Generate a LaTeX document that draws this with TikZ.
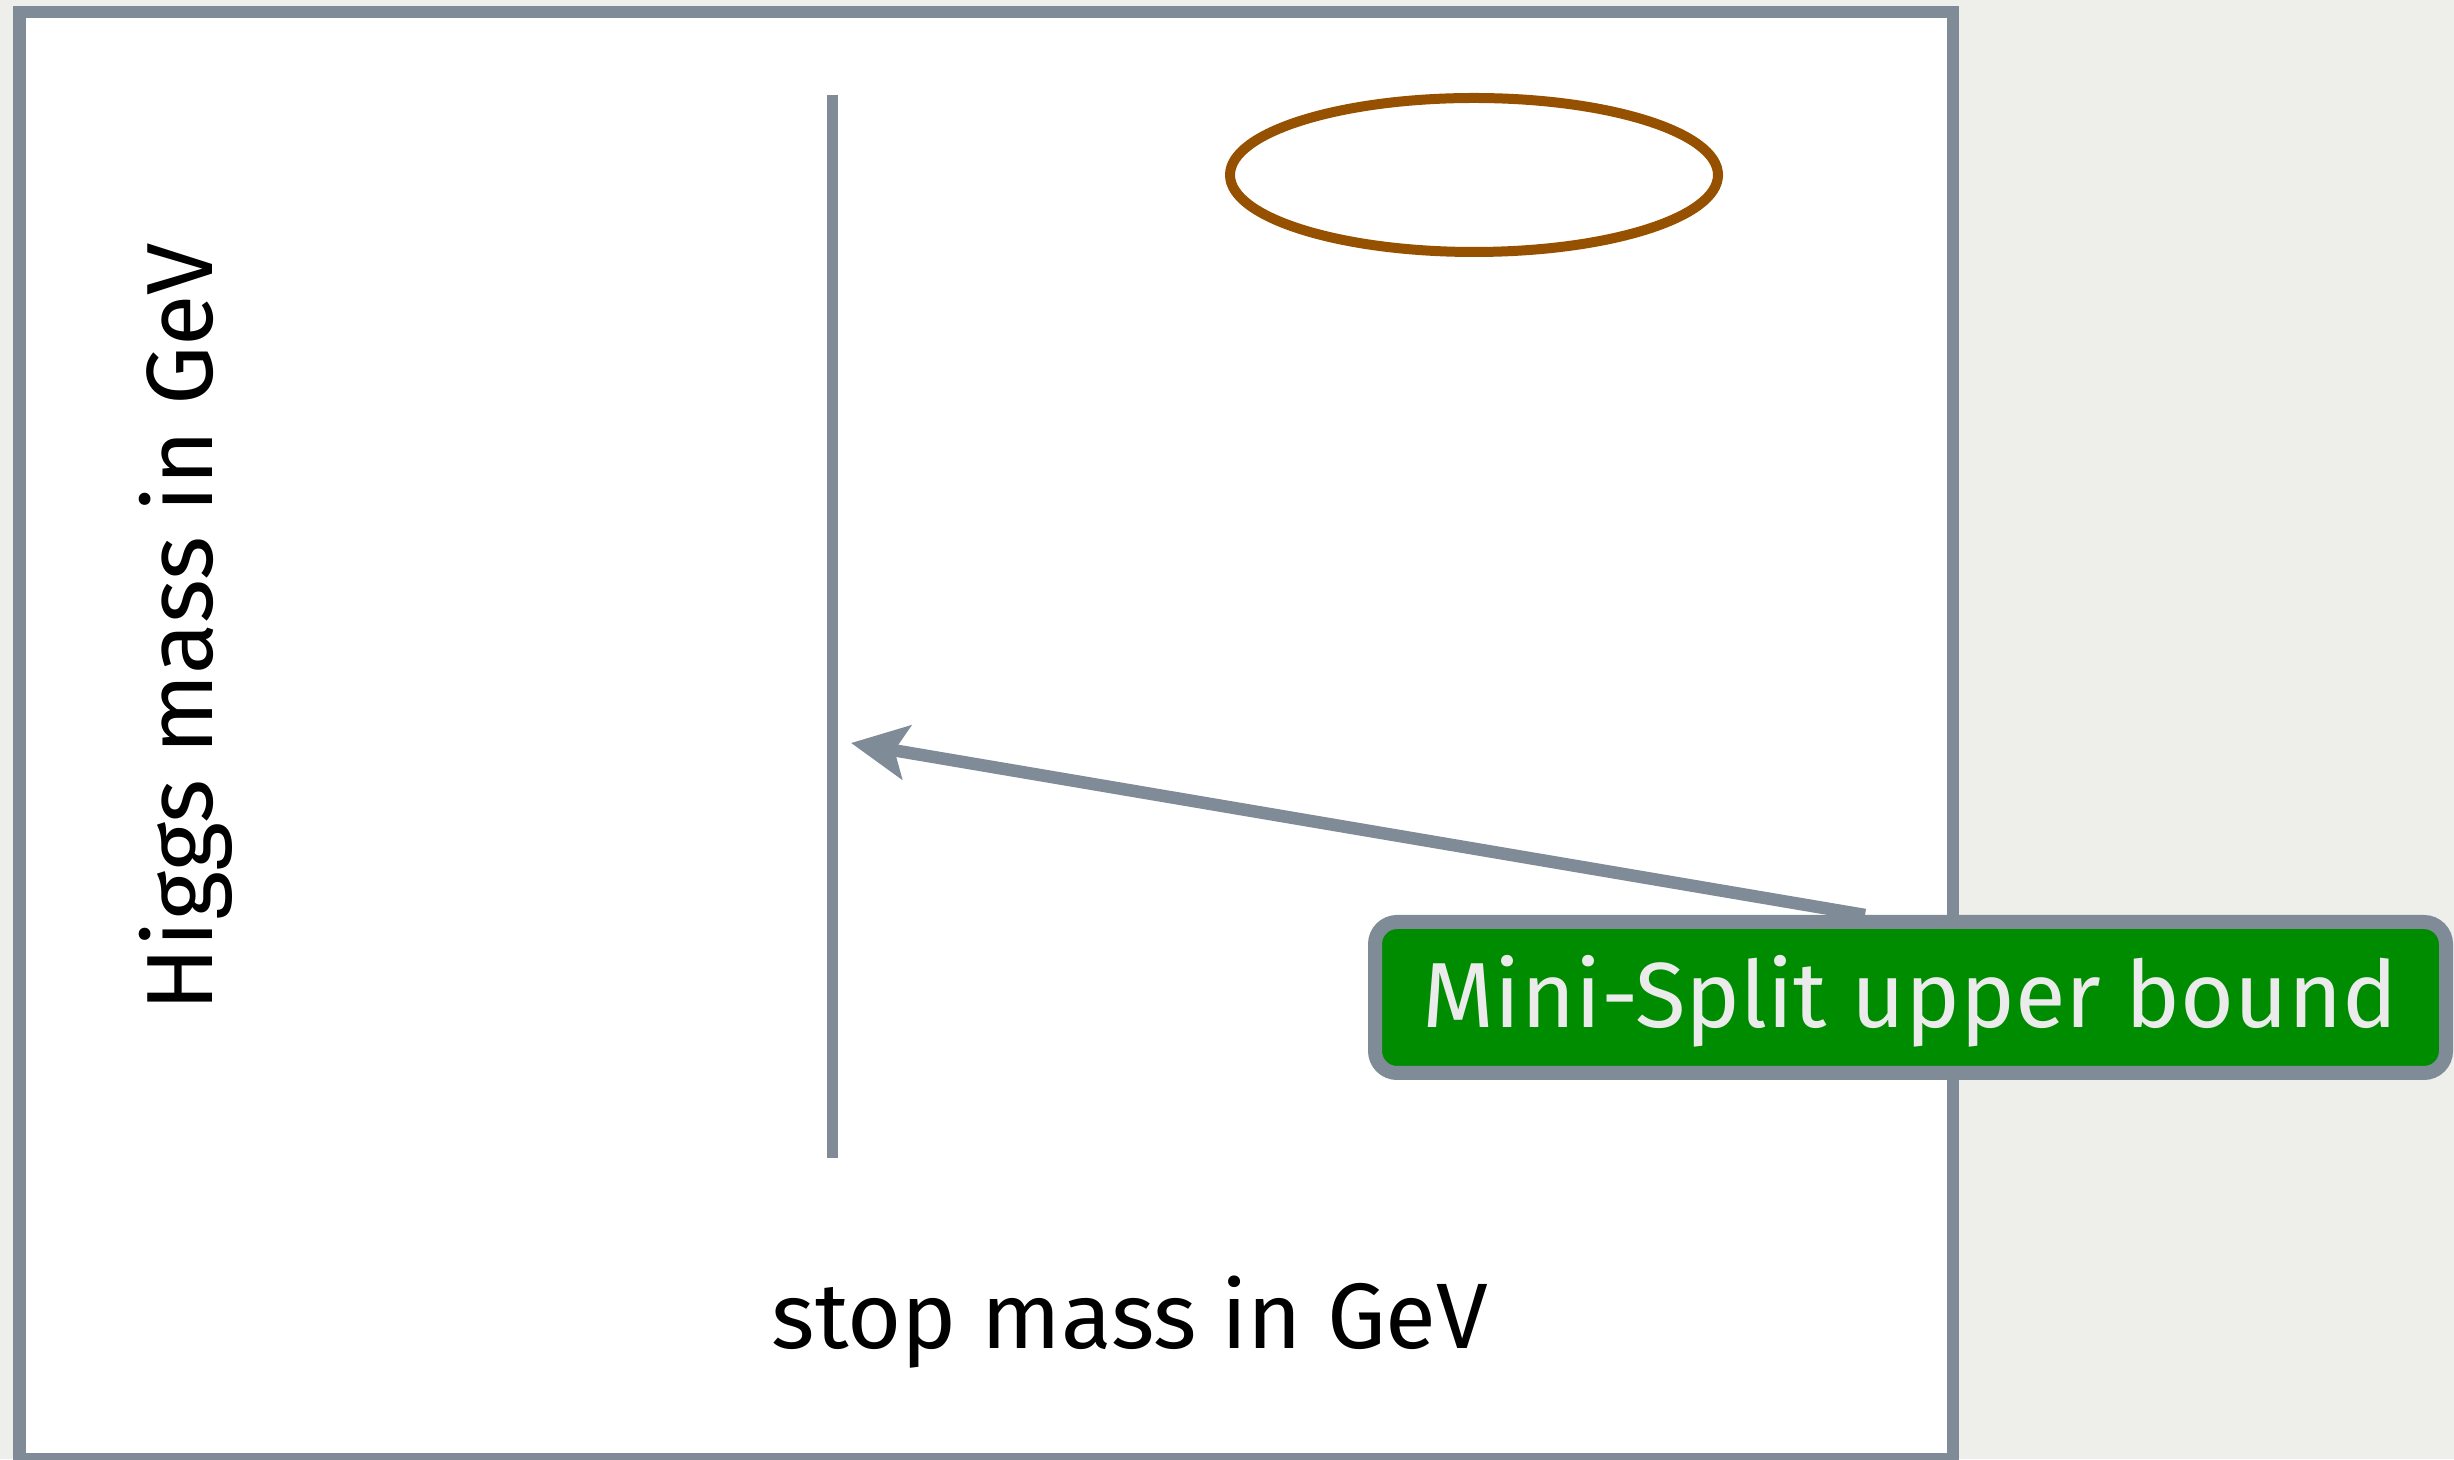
\documentclass[tikz,border=0pt]{standalone}
\usepackage{fontspec}
\setmainfont{Fira Sans}
\newfontfamily\labfont{Fira Sans}
\usetikzlibrary{arrows.meta}
\definecolor{framegray}{HTML}{808B98}
\definecolor{bggray}{HTML}{EEEEEA}
\definecolor{boxgreen}{HTML}{008C00}
\definecolor{boxtext}{HTML}{EBEBEB}
\definecolor{ellbrown}{HTML}{965100}
\tikzset{
  axislabel/.style={font=\labfont\fontsize{93}{100}\selectfont, text=black, inner sep=0pt},
  boundbox/.style={draw=framegray, line width=14pt, fill=boxgreen, rounded corners=22pt,
    minimum width=1071pt, minimum height=151pt, text=boxtext,
    font=\labfont\fontsize{92.5}{100}\selectfont, text height=61pt, text depth=0pt, inner sep=0pt},
  grayline/.style={draw=framegray, line width=11pt},
  pointer/.style={draw=framegray, line width=12.5pt, -{Stealth[length=56pt,width=54pt,inset=12pt]}}
}
\begin{document}
\begin{tikzpicture}[x=1pt,y=1pt]
\useasboundingbox (0,0) rectangle (2454,1459);
\fill[bggray] (0,0) rectangle (2454,1459);
% frame
\draw[draw=framegray, fill=white, line width=12.5pt] (19.5,0) rectangle (1953,1447);
% ellipse
\draw[ellbrown, line width=10pt] (1474,1284) ellipse [x radius=244pt, y radius=77pt];
% vertical line
\coordinate (vtop) at (832.5,1364);
\coordinate (vbot) at (832.5,301);
\draw[grayline] (vtop) -- (vbot);
% labels
\node[axislabel, anchor=base] (xlab) at (1130,111) {stop mass in GeV};
\node[axislabel, anchor=base, rotate=90, font=\labfont\fontsize{94}{100}\selectfont] (ylab) at (212,832) {Higgs mass in GeV};
% box
\node[boundbox] (box) at (1910.5,461.5) {Mini-Split upper bound};
\coordinate (tip) at (851,716);
\draw[pointer] ([xshift=497pt]box.north west) -- (tip);
\end{tikzpicture}
\end{document}
